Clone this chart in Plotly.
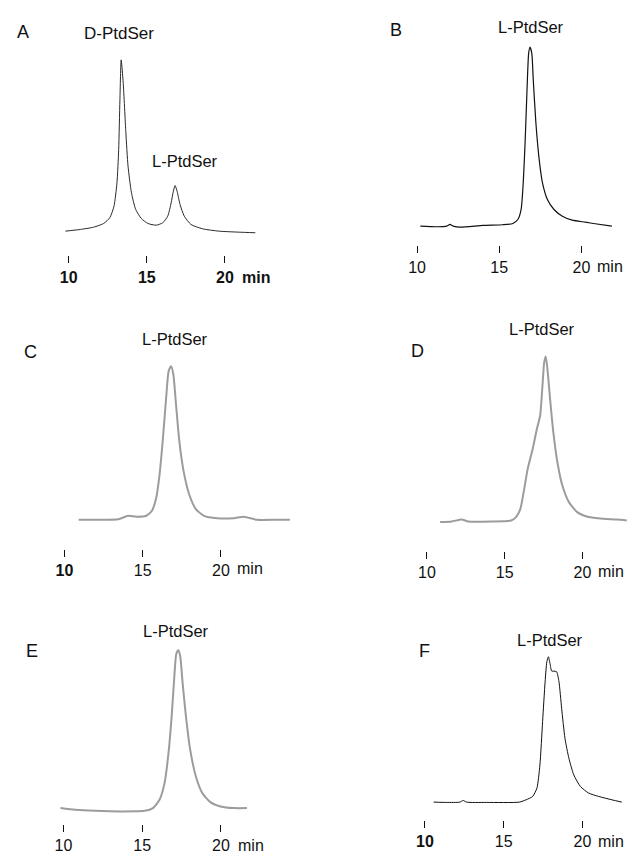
import plotly.graph_objects as go

W, H = 627, 854
FONT = "Liberation Sans, Arial, sans-serif"

# ---------------- data (retention time in min, detector signal in arbitrary units) -------------
A_time = [9.79, 10.74, 11.6, 12.24, 12.64, 12.9, 13.09, 13.2, 13.28, 13.36, 13.49, 13.66, 13.80,
          14.02, 14.29, 14.65, 15.07, 15.6, 16.02, 16.34, 16.56, 16.70, 16.81, 16.94, 17.13, 17.4,
          17.83, 18.56, 19.62, 20.89, 21.95]
A_signal = [2.3, 4, 6.3, 10, 16, 27.3, 50.7, 84, 134, 174, 151, 101, 67.3,
            40.7, 24, 15, 10, 8.3, 10.7, 17.3, 30.7, 42.3, 48, 42.3, 29, 17.3,
            9, 4.7, 2.3, 1.3, 0.7]

B_time = [10.2, 11.2, 11.81, 12.01, 12.21, 12.61, 14.02, 15.22, 15.83, 16.13, 16.33, 16.46, 16.58,
          16.69, 16.79, 16.87, 16.98, 17.07, 17.23, 17.43, 17.63, 17.93, 18.33, 18.84, 19.44,
          20.24, 20.84, 21.85]
B_signal = [1.3, 0.7, 1.3, 3, 1.3, 0.3, 2, 2.7, 4, 8, 18, 44.7, 88,
            138, 174.7, 180.7, 174.7, 148, 104.7, 68, 44.7, 28, 18, 11.3, 7.3,
            5.3, 3.7, 1.3]

C_time = [10.91, 12.17, 13.44, 14.07, 14.60, 15.23, 15.59, 15.87, 16.08, 16.28, 16.5, 16.66, 16.82,
          16.96, 17.13, 17.34, 17.61, 17.97, 18.40, 18.92, 19.77, 20.82, 21.46, 22.3, 23.56, 24.41]
C_signal = [0, 0, 0.6, 4, 3, 4, 9, 22.3, 45.6, 79, 122.3, 149, 154,
            145.6, 115.6, 79, 49, 25.6, 10.6, 4, 1.6, 1.6, 3, 0, 0, 0]

D_time = [10.85, 11.59, 12.23, 12.66, 14.14, 15.41, 15.73, 16.01, 16.22, 16.48, 16.80, 17.07, 17.28,
          17.43, 17.54, 17.64, 17.75, 17.92, 18.13, 18.39, 18.71, 19.13, 19.66, 20.40, 21.36,
          22.21, 22.85]
D_signal = [0, 0.6, 2.6, 0.6, 0.6, 1.6, 5, 13.3, 30, 53.3, 73.3, 93.3, 106.6,
            136.6, 160, 166, 153.3, 123.3, 90, 60, 36.6, 20, 10, 5, 3.3,
            2.6, 1.6]

E_time = [9.81, 10.75, 12.01, 13.69, 15.16, 15.68, 16.10, 16.42, 16.67, 16.87, 17.04, 17.17, 17.30,
          17.42, 17.57, 17.78, 18.05, 18.41, 18.82, 19.35, 19.98, 20.82, 21.65]
E_signal = [3.3, 1.6, 0.6, 0, 0.6, 3.3, 11.6, 28.3, 58.3, 95, 135, 158.3, 161.6,
            155, 128.3, 95, 61.6, 35, 18.3, 9, 5, 3.3, 3.3]

F_time = [10.55, 11.38, 12.22, 12.43, 12.64, 13.90, 15.99, 16.42, 16.84, 17.11, 17.30, 17.47, 17.63,
          17.74, 17.84, 17.94, 18.05, 18.19, 18.36, 18.51, 18.68, 18.89, 19.14, 19.45, 19.87,
          20.40, 21.03, 21.87, 22.50]
F_signal = [0.3, 0, 0.3, 2, 0.3, 0, 0.3, 2.6, 6, 14.3, 37.6, 81, 121,
            141, 146, 139.3, 131.6, 131.6, 131, 121, 94.3, 64.3, 44.3, 27.6, 16,
            9.3, 6, 2.6, 0.3]

tick_vals = [10, 15, 20]
A_ticks = ["<b>10</b>", "<b>15</b>", "<b>20</b>"]
B_ticks = ["10", "15", "20"]
C_ticks = ["<b>10</b>", "15", "20"]
D_ticks = ["10", "15", "20"]
E_ticks = ["10", "15", "20"]
F_ticks = ["<b>10</b>", "15", "20"]

panel_letters = ["A", "B", "C", "D", "E", "F"]
peak_names = [["D-PtdSer", "L-PtdSer"], ["L-PtdSer"], ["L-PtdSer"], ["L-PtdSer"], ["L-PtdSer"], ["L-PtdSer"]]
unit_label = "min"

# ---------------- layout geometry (pixels) ----------------
panels = [
    dict(t=A_time, s=A_signal, tt=A_ticks, color="#2a2a2a", lw=1.0, p10=63.3, p20=221.0,
         pl=55, pr=262, base=234, ptop=45, pbot=256, letter=(17, 32),
         names=[(114, 34, 17), (181, 161, 16.5)], minpos=(252, 278), minbold=True),
    dict(t=B_time, s=B_signal, tt=B_ticks, color="#111111", lw=1.2, p10=415.0, p20=581.0,
         pl=410, pr=627, base=228, ptop=38, pbot=246, letter=(394, 30),
         names=[(530, 27, 16.5)], minpos=(610, 267), minbold=False),
    dict(t=C_time, s=C_signal, tt=C_ticks, color="#9c9c9c", lw=2.0, p10=59.0, p20=217.0,
         pl=55, pr=292, base=521, ptop=355, pbot=550, letter=(25, 353),
         names=[(171, 340, 16.5)], minpos=(246, 570), minbold=False),
    dict(t=D_time, s=D_signal, tt=D_ticks, color="#9c9c9c", lw=2.0, p10=425.0, p20=582.0,
         pl=420, pr=627, base=523.3, ptop=345, pbot=552, letter=(415, 352),
         names=[(541, 330, 16.5)], minpos=(611, 573), minbold=False),
    dict(t=E_time, s=E_signal, tt=E_ticks, color="#9c9c9c", lw=2.0, p10=58.0, p20=217.0,
         pl=50, pr=252, base=813.3, ptop=640, pbot=826, letter=(26, 653),
         names=[(172, 632, 16.5)], minpos=(247, 847), minbold=False),
    dict(t=F_time, s=F_signal, tt=F_ticks, color="#111111", lw=1.0, p10=423.0, p20=582.0,
         pl=420, pr=627, base=804.3, ptop=645, pbot=822, letter=(423, 653),
         names=[(549, 642, 16.5)], minpos=(611, 843), minbold=False),
]

fig = go.Figure()
annotations = []
layout_axes = {}


def px2x(px):
    return px / W


def py2y(py):
    return 1 - py / H


for i, p in enumerate(panels):
    n = i + 1
    ppm = (p["p20"] - p["p10"]) / 10.0
    t_of = lambda px: 10 + (px - p["p10"]) / ppm
    fig.add_trace(go.Scatter(
        x=p["t"], y=p["s"], mode="lines", xaxis=f"x{n}", yaxis=f"y{n}",
        line=dict(color=p["color"], width=p["lw"], shape="spline", smoothing=0.6),
        hoverinfo="skip", showlegend=False))
    layout_axes[f"xaxis{n}"] = dict(
        domain=[px2x(p["pl"]), px2x(p["pr"])], range=[t_of(p["pl"]), t_of(p["pr"])],
        anchor=f"y{n}", tickvals=tick_vals, ticktext=p["tt"], ticks="outside", ticklen=7,
        tickwidth=1.4, tickcolor="#111", showline=False, showgrid=False, zeroline=False,
        tickfont=dict(family=FONT, size=16, color="#111"), fixedrange=True)
    layout_axes[f"yaxis{n}"] = dict(
        domain=[py2y(p["pbot"]), py2y(p["ptop"])],
        range=[p["base"] - p["pbot"], p["base"] - p["ptop"]],
        anchor=f"x{n}", visible=False, fixedrange=True)
    lx, ly = p["letter"]
    annotations.append(dict(text=panel_letters[i], x=px2x(lx), y=py2y(ly), xref="paper", yref="paper",
                            xanchor="center", yanchor="middle", showarrow=False,
                            font=dict(family=FONT, size=18, color="#111")))
    for name, (nx, ny, fs) in zip(peak_names[i], p["names"]):
        annotations.append(dict(text=name, x=px2x(nx), y=py2y(ny), xref="paper", yref="paper",
                                xanchor="center", yanchor="middle", showarrow=False,
                                font=dict(family=FONT, size=fs, color="#111")))
    mx, my = p["minpos"]
    annotations.append(dict(text=f"<b>{unit_label}</b>" if p["minbold"] else unit_label,
                            x=px2x(mx), y=py2y(my), xref="paper", yref="paper",
                            xanchor="center", yanchor="middle", showarrow=False,
                            font=dict(family=FONT, size=16, color="#111")))

fig.update_layout(
    width=W, height=H, margin=dict(l=0, r=0, t=0, b=0),
    paper_bgcolor="white", plot_bgcolor="white",
    annotations=annotations, **layout_axes)

fig.write_html("out.html", config={"displayModeBar": False})
